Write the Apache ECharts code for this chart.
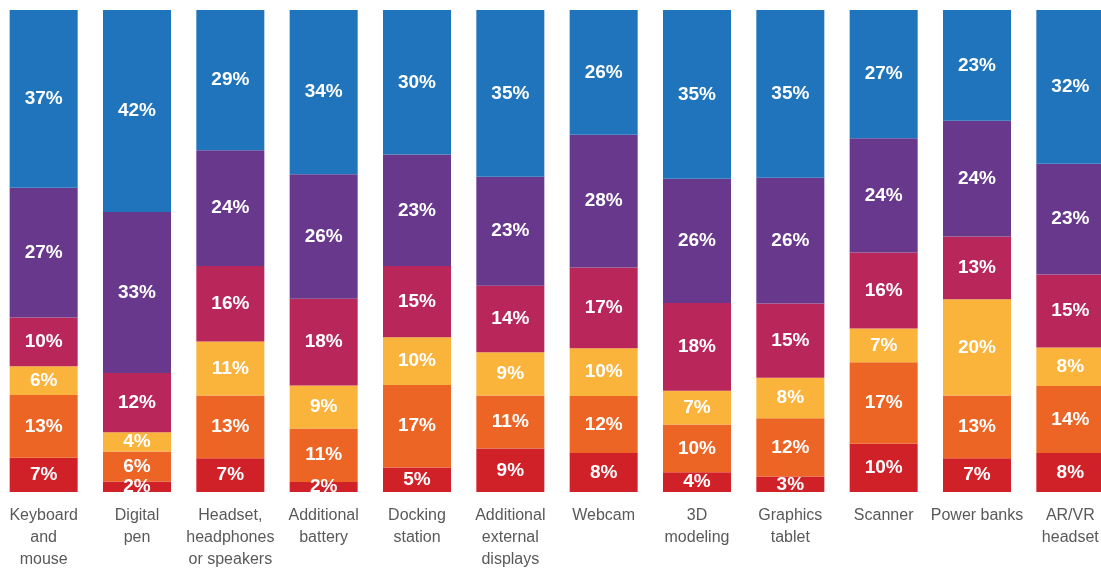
<!DOCTYPE html>
<html>
<head>
<meta charset="utf-8">
<script src="https://cdn.jsdelivr.net/npm/echarts@6/dist/echarts.min.js"></script>
<style>
  html, body { margin: 0; padding: 0; background: #ffffff; overflow: hidden; }
  #chart { position: absolute; left: -2.6px; top: 0; width: 1120px; height: 571px; }
</style>
</head>
<body>
<div id="chart"></div>
<script>
// Categories (x axis)
const categories = [
  "Keyboard\nand\nmouse",
  "Digital\npen",
  "Headset,\nheadphones\nor speakers",
  "Additional\nbattery",
  "Docking\nstation",
  "Additional\nexternal\ndisplays",
  "Webcam",
  "3D\nmodeling",
  "Graphics\ntablet",
  "Scanner",
  "Power banks",
  "AR/VR\nheadset"
];

// Series values in percent, bottom segment first
const seriesRed     = [7.1, 2.2, 7.0, 2.1, 5.1, 9.0, 8.1, 4.1, 3.2, 10.0, 7.0, 8.1];
const seriesOrange  = [13.0, 6.2, 13.0, 11.1, 17.1, 11.0, 11.8, 9.9, 12.1, 16.9, 13.0, 13.9];
const seriesYellow  = [6.0, 4.0, 11.2, 8.9, 9.9, 9.0, 9.9, 7.0, 8.4, 7.0, 20.0, 8.0];
const seriesCrimson = [10.1, 12.3, 15.7, 18.0, 14.8, 13.8, 16.8, 18.2, 15.4, 15.8, 13.0, 15.1];
const seriesPurple  = [26.9, 33.4, 24.0, 25.8, 23.1, 22.6, 27.5, 25.8, 26.1, 23.7, 24.0, 23.0];
const seriesBlue    = [36.9, 41.9, 29.1, 34.1, 30.0, 34.6, 25.9, 35.0, 34.8, 26.6, 23.0, 31.9];

const seriesDefs = [
  { name: "Segment 1", data: seriesRed,     color: "#d02028" },
  { name: "Segment 2", data: seriesOrange,  color: "#ed6525" },
  { name: "Segment 3", data: seriesYellow,  color: "#fab43c" },
  { name: "Segment 4", data: seriesCrimson, color: "#b8265a" },
  { name: "Segment 5", data: seriesPurple,  color: "#68388c" },
  { name: "Segment 6", data: seriesBlue,    color: "#1f74bb" }
];

const chart = echarts.init(document.getElementById("chart"), null, { renderer: "canvas" });

chart.setOption({
  animation: false,
  backgroundColor: "#ffffff",
  grid: { left: 0, right: 0, top: 10, bottom: 77, containLabel: false },
  xAxis: {
    type: "category",
    data: categories,
    axisLine: { show: false },
    axisTick: { show: false },
    axisLabel: {
      interval: 0,
      margin: 13,
      color: "#595959",
      fontSize: 16,
      lineHeight: 22,
      fontFamily: "'Liberation Sans', Arial, sans-serif"
    }
  },
  yAxis: {
    type: "value",
    min: 0,
    max: 100,
    show: false,
    splitLine: { show: false }
  },
  series: seriesDefs.map(s => ({
    name: s.name,
    type: "bar",
    stack: "total",
    barWidth: 68,
    data: s.data,
    itemStyle: { color: s.color },
    label: {
      show: true,
      position: "inside",
      color: "#ffffff",
      fontWeight: "bold",
      fontSize: 19,
      fontFamily: "'Liberation Sans', Arial, sans-serif",
      formatter: p => Math.round(p.value) + "%"
    }
  }))
});
</script>
</body>
</html>
